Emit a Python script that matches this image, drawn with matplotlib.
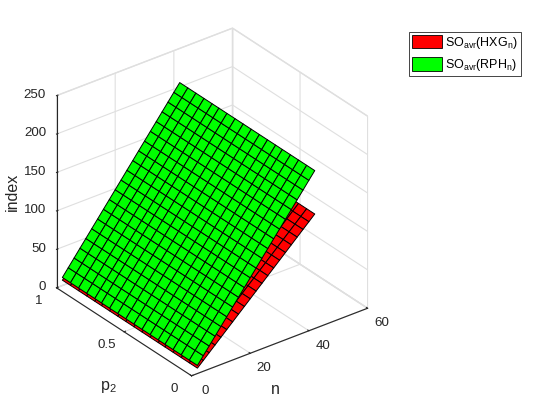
import numpy as np
import matplotlib
matplotlib.use('Agg')
import matplotlib.pyplot as plt
from matplotlib.patches import Patch

plt.rcParams['font.family'] = ['Liberation Sans', 'DejaVu Sans']
plt.rcParams['mathtext.fontset'] = 'custom'
plt.rcParams['mathtext.rm'] = 'Liberation Sans'
plt.rcParams['mathtext.default'] = 'regular'

# values
n_values = [2, 4, 6, 8, 10, 12, 14, 16, 18, 20, 22, 24, 26, 28, 30, 32, 34, 36, 38, 40, 42]
p2_values = [0, 0.06, 0.12, 0.18, 0.24, 0.29, 0.35, 0.41, 0.47,
             0.53, 0.59, 0.65, 0.71, 0.76, 0.82, 0.88, 0.94, 1]
hxg_index = [7, 14.1, 21.2, 28.3, 35.4, 42.5, 49.6, 56.7, 63.8, 70.9, 78,
             85.1, 92.2, 99.3, 106.4, 113.5, 120.6, 127.7, 134.8, 141.9, 149]
rph_index = [10.5, 20.3, 30, 39.8, 49.5, 59.3, 69, 78.8, 88.5, 98.3, 108,
             117.8, 127.5, 137.3, 147, 156.8, 166.5, 176.3, 186, 195.8, 205.5]
legend_labels = ['SO$_{avr}$(HXG$_{n}$)', 'SO$_{avr}$(RPH$_{n}$)']

dark = '#262626'
grid_col = '#dfdfdf'

fig = plt.figure(figsize=(5.6, 4.2), dpi=100)
ax = fig.add_axes([20.5 / 560, 26.5 / 420, 373 / 560, 373 / 420], projection='3d',
                  proj_type='ortho', computed_zorder=False)
ax.view_init(elev=30, azim=-127.5)
ax.set_box_aspect((1, 1, 1))

# the index hardly moves with p2, so each n value holds along the p2 grid
N, P = np.meshgrid(n_values, p2_values)
Z_hxg = np.tile(hxg_index, (len(p2_values), 1))
Z_rph = np.tile(rph_index, (len(p2_values), 1))

ax.plot_surface(N, P, Z_hxg, color='#ff0000', shade=False, edgecolor='black',
                linewidth=0.7, rstride=1, cstride=1, zorder=2)
ax.plot_surface(N, P, Z_rph, color='#00ff00', shade=False, edgecolor='black',
                linewidth=0.7, rstride=1, cstride=1, zorder=3)

ax.set_xlim(0, 60, view_margin=0)
ax.set_ylim(0, 1, view_margin=0)
ax.set_zlim(0, 250, view_margin=0)
ax.set_xticks([0, 20, 40, 60])
ax.set_yticks([0, 0.5, 1])
ax.set_yticklabels(['0', '0.5', '1'])
ax.set_zticks([0, 50, 100, 150, 200, 250])

ax.zaxis.set_ticks_position('upper')
ax.zaxis.set_label_position('upper')

for axis in (ax.xaxis, ax.yaxis, ax.zaxis):
    axis.set_pane_color((1, 1, 1, 1))
    axis.pane.set_edgecolor(grid_col)
    axis.line.set_color(dark)
    axis.line.set_linewidth(0.8)
    axis._axinfo['grid']['color'] = grid_col
    axis._axinfo['grid']['linewidth'] = 0.8
    axis._axinfo['tick']['inward_factor'] = 0.0
    axis._axinfo['tick']['outward_factor'] = 0.1
    axis._axinfo['tick']['linewidth'] = {True: 0.8, False: 0.5}
    axis._axinfo['tick']['color'] = dark

ax.tick_params(axis='x', labelsize=9.6, colors=dark, pad=6.5)
ax.tick_params(axis='y', labelsize=9.6, colors=dark, pad=6)
ax.tick_params(axis='z', labelsize=9.6, colors=dark, pad=2.8)

# tick labels only step away along one direction, as in the reference
ax.xaxis._axmask = lambda: [False, True, False]
ax.yaxis._axmask = lambda: [True, False, False]
ax.zaxis._axmask = lambda: [False, True, False]
for tick in ax.xaxis.get_major_ticks() + ax.yaxis.get_major_ticks():
    tick.label1.set_va('top')
for tick in ax.zaxis.get_major_ticks():
    tick.label1.set_ha('right')

fig.text(12 / 560, 1 - 192 / 420, 'index', fontsize=11.5, color=dark, ha='center', va='center', rotation=90)
fig.text(275 / 560, 1 - 390 / 420, 'n', fontsize=11.5, color=dark, ha='center', va='center')
fig.text(108 / 560, 1 - 387 / 420, 'p$_{2}$', fontsize=11.5, color=dark, ha='center', va='center')

handles = [Patch(facecolor='#ff0000', edgecolor='black', linewidth=0.6),
           Patch(facecolor='#00ff00', edgecolor='black', linewidth=0.6)]
leg = fig.legend(handles, legend_labels, loc='upper left', bbox_to_anchor=(409 / 560, 1 - 31.5 / 420),
                 borderaxespad=0, fontsize=9, fancybox=False, framealpha=1, edgecolor=dark,
                 handlelength=2.4, handleheight=1.28, handletextpad=0.25, borderpad=0.26,
                 labelspacing=0.5, labelcolor='black')
leg.get_frame().set_linewidth(0.6)

fig.savefig('out.png', dpi=100)
